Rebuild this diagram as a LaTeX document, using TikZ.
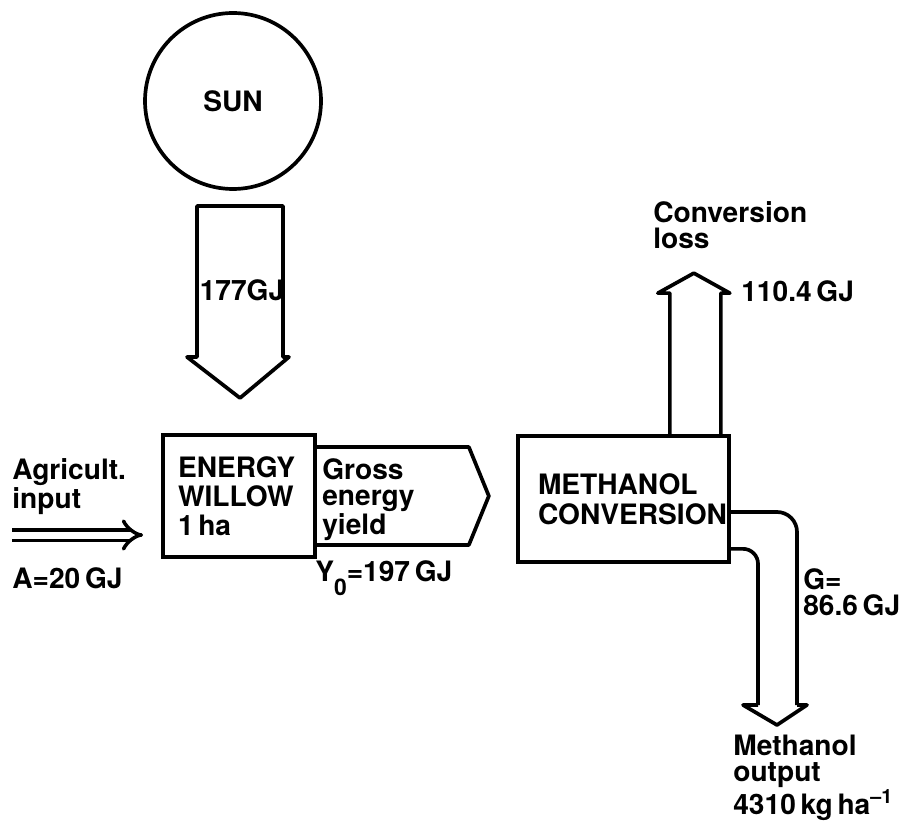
\documentclass[tikz,border=0pt]{standalone}
\usepackage{fontspec}
\setmainfont{TeX Gyre Heros}
\usetikzlibrary{arrows.meta,positioning,calc}

\begin{document}
\begin{tikzpicture}[
  flowbox/.style={
    rectangle, draw=black, line width=2.1pt,
    minimum height=2.44cm,
    inner xsep=0.3cm, align=left,
    font=\fontsize{16}{16.5}\selectfont\bfseries
  },
  broad/.style={draw=black, line width=2.1pt, line join=round},
  lbl/.style={anchor=west, align=left, inner sep=0pt,
    font=\fontsize{16}{14.8}\selectfont\bfseries},
  inarrow/.style={double, double distance=0.14cm, line width=2pt, -{Implies}}
]
\useasboundingbox (0,0) rectangle (18.22,-16.52);

\node[circle, draw=black, line width=2.1pt, minimum size=3.52cm,
  font=\fontsize{16}{16}\selectfont\bfseries] (sun) at (4.66,-2.02) {SUN};
\draw[broad] (3.94,-4.12) -- (5.66,-4.12) -- (5.66,-7.14) -- (5.78,-7.14)
  -- (4.80,-7.96) -- (3.74,-7.14) -- (3.94,-7.14) -- cycle;
\node[lbl, anchor=center] (sunval) at (4.84,-5.80) {177GJ};

\node[flowbox, minimum width=3.04cm, text width=2.44cm] (willow) at (4.78,-9.92)
  {ENERGY\\WILLOW\\1\,ha};
\draw[broad] ([yshift=0.98cm]willow.east) -- ++(3.04,0) -- ++(0.40,-0.98)
  -- ++(-0.40,-0.98) -- ++(-3.04,0);
\node[lbl] (gross) at (6.44,-10.0) {Gross\\energy\\yield};

\node[lbl] (agin) at (0.24,-9.74) {Agricult.\\input};
\coordinate (agtail) at (0.24,-10.70);
\draw[inarrow, shorten >=0.36cm] (agtail) -- (agtail -| willow.west);
\node[lbl] (aval) at (0.24,-11.56) {A=20\,GJ};
\node[lbl] (yval) at (6.30,-11.56)
  {Y\raisebox{-0.5em}{\fontsize{13}{13}\selectfont 0}=197\,GJ};

\node[flowbox, minimum width=4.22cm, minimum height=2.52cm, inner xsep=0.4cm,
  text width=3.42cm, font=\fontsize{16}{17}\selectfont\bfseries] (methanol)
  at (12.47,-9.98) {METHANOL\\CONVERSION};

\draw[broad] ([xshift=-1.22cm]methanol.north east) -- ++(0,2.82) -- ++(-0.24,0)
  -- ++(0.72,0.40) -- ++(0.72,-0.40) -- ++(-0.18,0) -- ++(0,-2.82);
\node[lbl] (lossname) at (13.06,-4.50) {Conversion\\loss};
\node[lbl] (lossval) at (14.82,-5.82) {110.4\,GJ};

\draw[broad, rounded corners=0.4cm] ([yshift=-0.26cm]methanol.east) -| (15.94,-14.1);
\draw[broad, rounded corners=0.3cm] ([yshift=0.30cm]methanol.south east) -| (15.16,-14.1);
\draw[broad] (15.16,-14.1) -- (14.86,-14.1) -- (15.54,-14.5) -- (16.14,-14.1) -- (15.94,-14.1);
\node[lbl] (gval) at (16.06,-11.85) {G=\\86.6\,GJ};
\node[lbl] (meout) at (14.66,-15.56) {Methanol\\output\\4310\,kg\,ha\textsuperscript{--1}};
\end{tikzpicture}
\end{document}
